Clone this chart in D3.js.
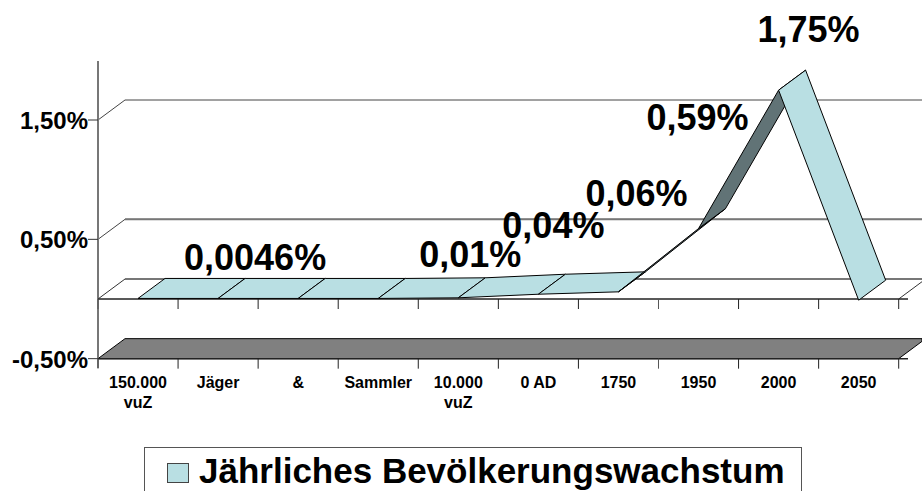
<!DOCTYPE html>
<html><head><meta charset="utf-8">
<script src="https://cdnjs.cloudflare.com/ajax/libs/d3/7.8.5/d3.min.js"></script>
<style>html,body{margin:0;padding:0;background:#fff}svg{display:block}text{font-family:"Liberation Sans",Arial,sans-serif;font-weight:bold;fill:#000}</style>
</head><body><svg id="c" width="922" height="491"></svg>
<script>
const categories = [["150.000","vuZ"],["Jäger"],["&"],["Sammler"],["10.000","vuZ"],["0 AD"],["1750"],["1950"],["2000"],["2050"]];
const growth = [0.0046,0.0046,0.0046,0.0046,0.01,0.04,0.06,0.59,1.75,-0.01];
const valueLabels = ["","0,0046%","","","0,01%","0,04%","0,06%","0,59%","1,75%",""];
const labelNudge = [[0,0],[37,-28],[0,0],[0,0],[12,-31],[15,-56],[18,-86],[-1,-99],[30,-48],[0,0]];
const yTicks = [1.5,0.5,-0.5];
const yTickLabels = ["1,50%","0,50%","-0,50%"];
const seriesName = "Jährliches Bevölkerungswachstum";

const svg = d3.select("#c");
const depth = [27,-20];
const x = d3.scaleBand().domain(d3.range(categories.length)).range([98,898.7]);
const y = d3.scaleLinear().domain([0,1.5]).range([299,120]);
const cx = i => x(i)+x.bandwidth()/2;
const L = "#000", G = "#777";
const line = d3.line();

// back gridlines
yTicks.forEach(v=>{
  const yy=y(v);
  if(v===-0.5) return;
  svg.append("path").attr("d",line([[98,yy],[98+depth[0],yy+depth[1]],[922,yy+depth[1]]])).attr("fill","none").attr("stroke","#444").attr("stroke-width",1);
  if(v===0.5) svg.append("line").attr("x1",125).attr("x2",922).attr("y1",yy+depth[1]).attr("y2",yy+depth[1]).attr("stroke",G).attr("stroke-width",2);
});
// zero plane
svg.append("path").attr("d",line([[98,y(0)],[125,y(0)-20]])).attr("fill","none").attr("stroke","#333").attr("stroke-width",1);
svg.append("line").attr("x1",125).attr("x2",922).attr("y1",y(0)-20).attr("y2",y(0)-20).attr("stroke",G).attr("stroke-width",2);
svg.append("path").attr("d",line([[898.7,y(0)],[922,y(0)-17.3]])).attr("fill","none").attr("stroke","#333");
// floor
const fy=y(-0.5);
svg.append("path").attr("d",line([[98,fy],[125,fy-20],[922,fy-20],[922,fy-17.3],[898.7,fy]])+"Z").attr("fill","#808080").attr("stroke",L).attr("stroke-width",1);

// axis frame
svg.append("line").attr("x1",98).attr("x2",98).attr("y1",61).attr("y2",368).attr("stroke",G).attr("stroke-width",2);
yTicks.forEach((v,i)=>{
  svg.append("line").attr("x1",88).attr("x2",98).attr("y1",y(v)).attr("y2",y(v)).attr("stroke","#333");
  svg.append("text").attr("x",88).attr("y",y(v)+9).attr("text-anchor","end").attr("font-size",24).text(yTickLabels[i]);
});
[y(0),fy].forEach(yy=>{
  svg.append("line").attr("x1",98).attr("x2",908).attr("y1",yy).attr("y2",yy).attr("stroke","#222").attr("stroke-width",1.5);
  d3.range(categories.length+1).forEach(i=>{
    const tx=98+i*x.bandwidth();
    svg.append("line").attr("x1",tx).attr("x2",tx).attr("y1",yy).attr("y2",yy+10).attr("stroke",i%7===0?"#555":"#222").attr("stroke-width",1);
  });
});

// ribbon
d3.range(categories.length-1).forEach(i=>{
  const a=[cx(i),y(growth[i])], b=[cx(i+1),y(growth[i+1])];
  const cross=(b[0]-a[0])*depth[1]-(b[1]-a[1])*depth[0];
  svg.append("path").attr("d",line([a,b,[b[0]+depth[0],b[1]+depth[1]],[a[0]+depth[0],a[1]+depth[1]]])+"Z")
    .attr("fill",cross>0?"#617376":"#b9dfe3").attr("stroke",L).attr("stroke-width",1).attr("stroke-linejoin","round");
});

// category labels
categories.forEach((c,i)=>{
  c.forEach((t,j)=>svg.append("text").attr("x",cx(i)).attr("y",388+j*20).attr("text-anchor","middle").attr("font-size",16).text(t));
});
// value labels
valueLabels.forEach((t,i)=>{
  if(t) svg.append("text").attr("x",cx(i)+labelNudge[i][0]).attr("y",y(growth[i])+labelNudge[i][1]).attr("text-anchor","middle").attr("font-size",36).text(t);
});
// legend
svg.append("rect").attr("x",144.5).attr("y",447.5).attr("width",657).attr("height",50).attr("fill","none").attr("stroke","#555");
svg.append("rect").attr("x",167.5).attr("y",463.5).attr("width",21).attr("height",19).attr("fill","#b9dfe3").attr("stroke","#444");
svg.append("text").attr("x",199).attr("y",483).attr("font-size",35).text(seriesName);
</script></body></html>
